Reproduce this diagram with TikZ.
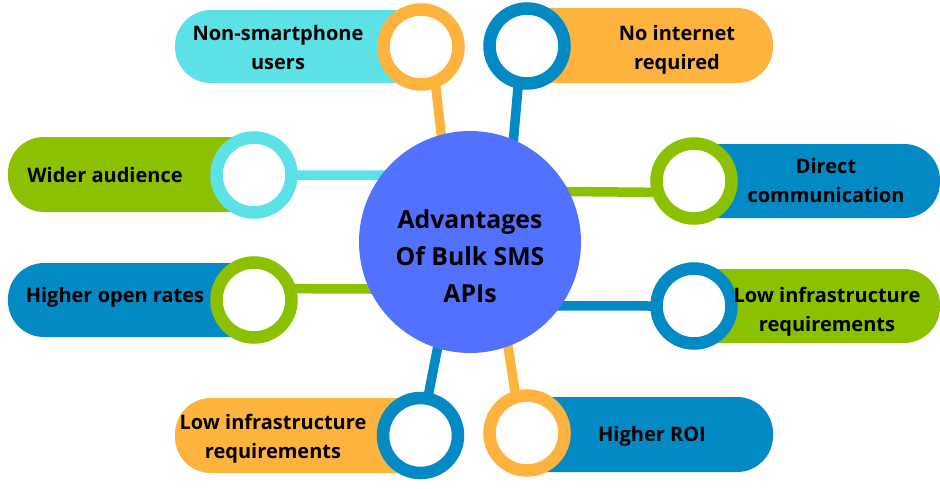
\documentclass[tikz,border=0pt]{standalone}
\usepackage{fontspec}
\setmainfont{Open Sans}
\usetikzlibrary{backgrounds}

\definecolor{skyc}{HTML}{5CE1E6}
\definecolor{orangec}{HTML}{FFB33F}
\definecolor{limec}{HTML}{8BC101}
\definecolor{bluec}{HTML}{0389C3}
\definecolor{hubc}{HTML}{5271FF}

\tikzset{
  pill/.style={fill=#1, rounded corners=36pt},
  ring/.style={circle, draw=#1, line width=12.5pt, fill=white, inner sep=0pt, minimum size=75pt},
  link/.style={draw=#1, line width=9.5pt, shorten <=-8pt, shorten >=-14pt},
  lbl/.style={font=\fontsize{20}{29}\selectfont\bfseries, align=center},
  hub/.style={circle, fill=hubc, inner sep=0pt, minimum size=222pt}
}

\begin{document}
\begin{tikzpicture}[x=1pt, y=1pt]
\useasboundingbox (0,0) rectangle (940,-488);

% pills
\fill[pill=skyc]    (175,-10)  rectangle (459,-83);
\fill[pill=orangec] (489,-8)   rectangle (773,-83);
\fill[pill=limec]   (8,-137)   rectangle (292,-212);
\fill[pill=bluec]   (656,-144) rectangle (940,-218);
\fill[pill=bluec]   (8,-263)   rectangle (292,-337);
\fill[pill=limec]   (656,-269) rectangle (940,-343);
\fill[pill=orangec] (175,-398) rectangle (458,-473);
\fill[pill=bluec]   (489,-397) rectangle (773,-472);

\node[hub] (hub) at (470,-242) {};
\node[align=center, font=\fontsize{24.8}{37}\selectfont\bfseries] (title) at (470,-256)
  {Advantages\\Of Bulk SMS\\APIs};

% rings
\node[ring=orangec] (r1) at (421,-47) {};
\node[ring=bluec]   (r2) at (527,-46) {};
\node[ring=skyc]    (r3) at (254,-175) {};
\node[ring=limec]   (r4) at (694,-181) {};
\node[ring=limec]   (r5) at (254,-300) {};
\node[ring=bluec]   (r6) at (694,-306) {};
\node[ring=bluec]   (r7) at (420.5,-435.5) {};
\node[ring=orangec] (r8) at (527,-433) {};

% labels
\node[lbl] (t1) at (278,-47.5)  {Non-smartphone\\users};
\node[lbl] (t2) at (677,-49.5)  {No internet\\required};
\node[lbl] (t3) at (105,-175)   {Wider audience};
\node[lbl] (t4) at (826,-180)   {Direct\\communication};
\node[lbl] (t5) at (115,-297)   {Higher open rates};
\node[lbl] (t6) at (827,-312)   {Low infrastructure\\requirements};
\node[lbl] (t7) at (273,-438.5) {Low infrastructure\\requirements};
\node[lbl] (t8) at (652,-436)   {Higher ROI};

% connectors
\begin{pgfonlayer}{background}
\draw[link=orangec] (r1.-70)  -- (hub.105);
\draw[link=bluec]   (r2.-102) -- (hub.67);
\draw[link=skyc]    (r3.east) -- (hub.143);
\draw[link=limec]   (r4.195)  -- (hub.27);
\draw[link=limec]   (r5.15)   -- (hub.205);
\draw[link=bluec]   (r6.west) -- (hub.-35);
\draw[link=bluec]   (r7.79)   -- (hub.-107);
\draw[link=orangec] (r8.106)  -- (hub.-70);
\end{pgfonlayer}
\end{tikzpicture}
\end{document}
